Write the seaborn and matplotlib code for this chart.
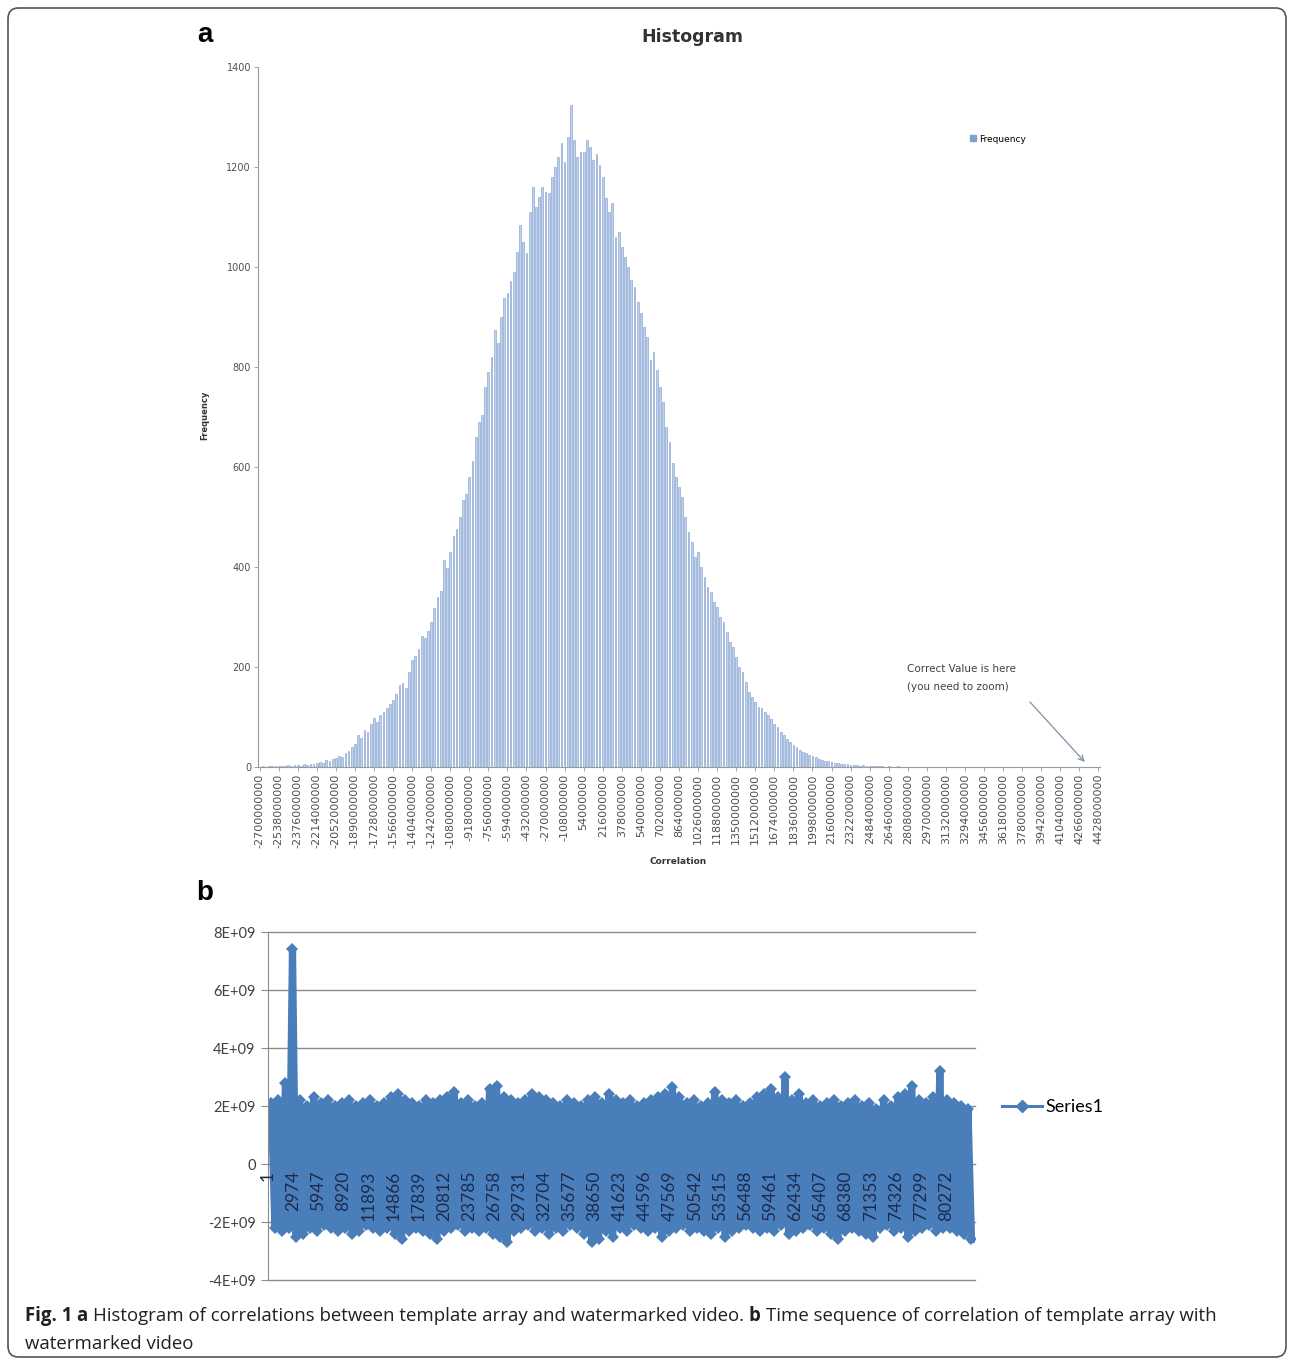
import matplotlib
matplotlib.use("Agg")
import matplotlib.pyplot as plt
from matplotlib.patches import FancyBboxPatch, Patch
from matplotlib.lines import Line2D
import seaborn as sns
import pandas as pd

# %% data -- panel a: histogram counts, one per bin (6 bins between labels)
hist_counts = [
    1, 2, 1, 3, 2, 2,
    2, 3, 2, 4, 3, 5,
    4, 3, 6, 5, 7, 6,
    8, 10, 9, 14, 12, 16,
    18, 22, 20, 28, 32, 40,
    46, 64, 58, 74, 70, 86,
    98, 90, 104, 110, 118, 126,
    134, 146, 164, 168, 158, 190,
    214, 222, 236, 262, 258, 272,
    290, 318, 340, 352, 414, 398,
    430, 462, 476, 500, 534, 546,
    580, 612, 660, 690, 704, 760,
    790, 820, 874, 848, 900, 938,
    948, 972, 990, 1030, 1084, 1050,
    1028, 1110, 1160, 1120, 1140, 1160,
    1150, 1148, 1180, 1200, 1220, 1248,
    1210, 1260, 1324, 1254, 1220, 1230,
    1230, 1254, 1240, 1214, 1226, 1204,
    1180, 1138, 1110, 1128, 1060, 1070,
    1040, 1020, 1000, 974, 960, 930,
    908, 880, 860, 814, 830, 794,
    760, 730, 680, 650, 608, 580,
    560, 540, 500, 470, 450, 420,
    430, 400, 380, 360, 350, 330,
    320, 300, 290, 270, 250, 240,
    220, 200, 190, 170, 150, 140,
    130, 120, 118, 110, 105, 96,
    86, 80, 70, 64, 56, 50,
    44, 40, 34, 30, 28, 24,
    22, 20, 16, 15, 13, 12,
    10, 9, 8, 7, 6, 6,
    5, 4, 4, 3, 4, 3,
    3, 2, 3, 2, 2, 1,
    2, 1, 1, 2, 1, 1,
    1, 1, 0, 1, 1, 0,
    1, 0, 1, 0, 0, 1,
    0, 1, 0, 0, 1, 0,
    0, 0, 1, 0, 0, 0,
    1, 0, 0, 0, 0, 1,
    0, 0, 0, 1, 0, 0,
    0, 0, 1, 0, 0, 0,
    0, 0, 0, 0, 1, 0,
    0, 0, 0, 0, 0, 0,
    0, 0, 1, 0, 0, 0,
    0,
]

hist_tick_labels = [
    "-2700000000", "-2538000000", "-2376000000", "-2214000000", "-2052000000",
    "-1890000000", "-1728000000", "-1566000000", "-1404000000", "-1242000000",
    "-1080000000", "-918000000", "-756000000", "-594000000", "-432000000",
    "-270000000", "-108000000", "54000000", "216000000", "378000000",
    "540000000", "702000000", "864000000", "1026000000", "1188000000",
    "1350000000", "1512000000", "1674000000", "1836000000", "1998000000",
    "2160000000", "2322000000", "2484000000", "2646000000", "2808000000",
    "2970000000", "3132000000", "3294000000", "3456000000", "3618000000",
    "3780000000", "3942000000", "4104000000", "4266000000", "4428000000",
]

# %% data -- panel b: upper / lower envelope of the correlation sequence (x1e9)
series_upper = [
    2.1, 2.2, 2.8, 7.4, 2.2, 2.0, 2.3, 2.1, 2.2, 2.0,
    2.1, 2.2, 2.0, 2.1, 2.2, 2.0, 2.1, 2.3, 2.4, 2.2,
    2.1, 2.0, 2.2, 2.1, 2.2, 2.3, 2.5, 2.1, 2.2, 2.0,
    2.1, 2.6, 2.7, 2.3, 2.2, 2.1, 2.2, 2.4, 2.3, 2.2,
    2.1, 2.0, 2.2, 2.1, 2.0, 2.2, 2.3, 2.1, 2.4, 2.2,
    2.1, 2.2, 2.0, 2.1, 2.2, 2.3, 2.4, 2.65, 2.3, 2.1,
    2.2, 2.0, 2.1, 2.5, 2.2, 2.1, 2.2, 2.0, 2.1, 2.3,
    2.4, 2.6, 2.3, 3.0, 2.2, 2.4, 2.1, 2.2, 2.0, 2.1,
    2.2, 2.0, 2.1, 2.2, 2.0, 2.1, 1.9, 2.2, 2.0, 2.3,
    2.4, 2.7, 2.2, 2.1, 2.3, 3.2, 2.2, 2.1, 2.0, 1.9,
]
series_lower = [
    -2.2, -2.3, -2.2, -2.5, -2.4, -2.2, -2.3, -2.1, -2.2, -2.3,
    -2.2, -2.4, -2.3, -2.1, -2.2, -2.3, -2.2, -2.4, -2.6, -2.3,
    -2.2, -2.3, -2.4, -2.6, -2.3, -2.2, -2.1, -2.3, -2.2, -2.3,
    -2.2, -2.4, -2.5, -2.7, -2.3, -2.2, -2.1, -2.3, -2.2, -2.4,
    -2.2, -2.3, -2.1, -2.2, -2.4, -2.7, -2.6, -2.3, -2.5, -2.2,
    -2.3, -2.1, -2.2, -2.3, -2.2, -2.5, -2.3, -2.2, -2.1, -2.3,
    -2.2, -2.3, -2.4, -2.2, -2.5, -2.3, -2.2, -2.1, -2.2, -2.3,
    -2.2, -2.3, -2.1, -2.4, -2.3, -2.2, -2.1, -2.3, -2.2, -2.4,
    -2.6, -2.3, -2.2, -2.3, -2.4, -2.5, -2.2, -2.1, -2.3, -2.2,
    -2.5, -2.3, -2.2, -2.1, -2.3, -2.2, -2.2, -2.3, -2.4, -2.6,
]
sample_step = 833  # index spacing between envelope readings
n_points = 83700

seq_ticks = [
    1, 2974, 5947, 8920, 11893, 14866, 17839, 20812, 23785, 26758,
    29731, 32704, 35677, 38650, 41623, 44596, 47569, 50542, 53515, 56488,
    59461, 62434, 65407, 68380, 71353, 74326, 77299, 80272,
]
seq_yticks = [-4e9, -2e9, 0, 2e9, 4e9, 6e9, 8e9]
seq_ylabels = ["-4E+09", "-2E+09", "0", "2E+09", "4E+09", "6E+09", "8E+09"]

# %% tables
hist_df = pd.DataFrame({"bin": range(len(hist_counts)), "count": hist_counts})

rows = []
for j, (u, l) in enumerate(zip(series_upper, series_lower)):
    rows.append((400 + j * sample_step, u * 1e9))
    rows.append((400 + j * sample_step + sample_step // 2, l * 1e9))
seq_df = pd.DataFrame(rows, columns=["idx", "value"])

# %% figure
fig = plt.figure(figsize=(12.93, 13.6), dpi=100)
W, H = 1293, 1360


def fx(px):
    return px / W


def fy(py):
    return 1 - py / H


small_grey = "#505050"

# ---- panel a
ax1 = fig.add_axes([fx(258), fy(767), fx(1100) - fx(258), fy(67) - fy(767)])
sns.barplot(
    data=hist_df,
    x="bin",
    y="count",
    color="#c0d3ec",
    saturation=1,
    width=0.55,
    edgecolor="#86a3cf",
    linewidth=0.45,
    ax=ax1,
)
ax1.set_xlim(-0.5, len(hist_counts) - 0.5)
ax1.set_ylim(0, 1400)
ax1.set_yticks(range(0, 1401, 200))
ax1.set_yticklabels([str(v) for v in range(0, 1401, 200)], fontsize=7, color=small_grey)
ax1.set_xticks(range(0, len(hist_counts), 6))
ax1.set_xticklabels(hist_tick_labels, rotation=90, fontsize=8, color=small_grey)
ax1.tick_params(axis="both", length=3, width=0.6, color="#999999", pad=2)
ax1.set_xlabel("")
ax1.set_ylabel("")
for s in ["top", "right"]:
    ax1.spines[s].set_visible(False)
for s in ["left", "bottom"]:
    ax1.spines[s].set_color("#9a9a9a")
    ax1.spines[s].set_linewidth(0.8)

ax1.legend(
    handles=[Patch(facecolor="#7f9fcf", edgecolor="#7f9fcf")],
    labels=["Frequency"],
    loc="center left",
    bbox_to_anchor=(fx(962), fy(139)),
    bbox_transform=fig.transFigure,
    frameon=False,
    fontsize=6.5,
    handlelength=0.6,
    handleheight=0.6,
    handletextpad=0.4,
)
fig.text(fx(907), fy(678), "Correct Value is here\n(you need to zoom)",
         fontsize=7.5, color="#404040", ha="left", va="center", linespacing=1.9)
ax1.annotate(
    "",
    xy=(260, 8),
    xytext=(fx(1030), fy(702)),
    textcoords="figure fraction",
    arrowprops=dict(arrowstyle="->", color="#7f8fa8", lw=0.9, shrinkA=0, shrinkB=1),
)

fig.text(fx(692), fy(37), "Histogram", fontsize=12.5, fontweight="bold",
         color="#333333", ha="center", va="center")
fig.text(fx(205), fy(415), "Frequency", fontsize=6, fontweight="bold",
         color="#333333", rotation=90, ha="center", va="center")
fig.text(fx(678), fy(862), "Correlation", fontsize=6.5, fontweight="bold",
         color="#333333", ha="center", va="center")

# ---- panel b
ax2 = fig.add_axes([fx(268), fy(1280), fx(975) - fx(268), fy(932) - fy(1280)])
sns.lineplot(
    data=seq_df,
    x="idx",
    y="value",
    sort=False,
    estimator=None,
    color="#4a7ebb",
    linewidth=5.2,
    marker="D",
    markersize=6.5,
    markeredgewidth=0,
    legend=False,
    ax=ax2,
)
# category axis crosses at 0 (set before styling the ticks, it resets them)
ax2.spines["bottom"].set_position(("data", 0))
ax2.spines["bottom"].set_visible(False)
ax2.spines["top"].set_visible(False)
ax2.spines["right"].set_visible(False)
ax2.spines["left"].set_color("#8c8c8c")

ax2.set_xlim(0, n_points)
ax2.set_ylim(-4e9, 8e9)
ax2.set_yticks(seq_yticks)
ax2.set_yticklabels(seq_ylabels, fontsize=10.5, color="#404040", family="Lato")
ax2.set_xticks(seq_ticks)
ax2.set_xticklabels([str(t) for t in seq_ticks], rotation=90, fontsize=12.5,
                    color="#1c2a4e", family="Lato", va="top", ha="center")
ax2.tick_params(axis="x", length=0, pad=5)
ax2.tick_params(axis="y", length=5, width=0.8, color="#8c8c8c", pad=4)
ax2.yaxis.grid(True, color="#8c8c8c", linewidth=1)
for gl in ax2.get_ygridlines():
    gl.set_clip_on(False)
ax2.set_axisbelow("line")
ax2.xaxis.set_zorder(3)
ax2.set_xlabel("")
ax2.set_ylabel("")

ax2.legend(
    handles=[Line2D([], [], color="#4a7ebb", lw=2.2, marker="D", markersize=6)],
    labels=["Series1"],
    loc="center left",
    bbox_to_anchor=(fx(986), fy(1107)),
    bbox_transform=fig.transFigure,
    frameon=False,
    prop={"family": "Lato", "size": 13},
    handlelength=2.2,
    handletextpad=0.2,
)

# ---- panel letters
fig.text(fx(205), fy(35), "a", fontsize=20, fontweight="bold", ha="center",
         va="center", family="Liberation Sans")
fig.text(fx(205), fy(893), "b", fontsize=20, fontweight="bold", ha="center",
         va="center", family="Liberation Sans")

# ---- caption with bold runs
renderer = fig.canvas.get_renderer()
cap_runs = [
    ("Fig. 1 ", True),
    ("a ", True),
    ("Histogram of correlations between template array and watermarked video. ", False),
    ("b ", True),
    ("Time sequence of correlation of template array with", False),
]
x = fx(25)
for txt, bold in cap_runs:
    t = fig.text(x, fy(1316), txt, fontsize=13.4, family="Open Sans",
                 fontweight="bold" if bold else "normal", color="#231f20",
                 ha="left", va="center")
    x += t.get_window_extent(renderer).width / W
fig.text(fx(25), fy(1344), "watermarked video", fontsize=13.4, family="Open Sans",
         color="#231f20", ha="left", va="center")

# ---- rounded frame
fig.patches.append(
    FancyBboxPatch(
        (fx(8), fy(1357)), fx(1286) - fx(8), fy(8) - fy(1357),
        boxstyle="round,pad=0,rounding_size=0.008",
        transform=fig.transFigure, fill=False, edgecolor="#555555", lw=1.2,
    )
)

plt.savefig("out.png", dpi=100)
